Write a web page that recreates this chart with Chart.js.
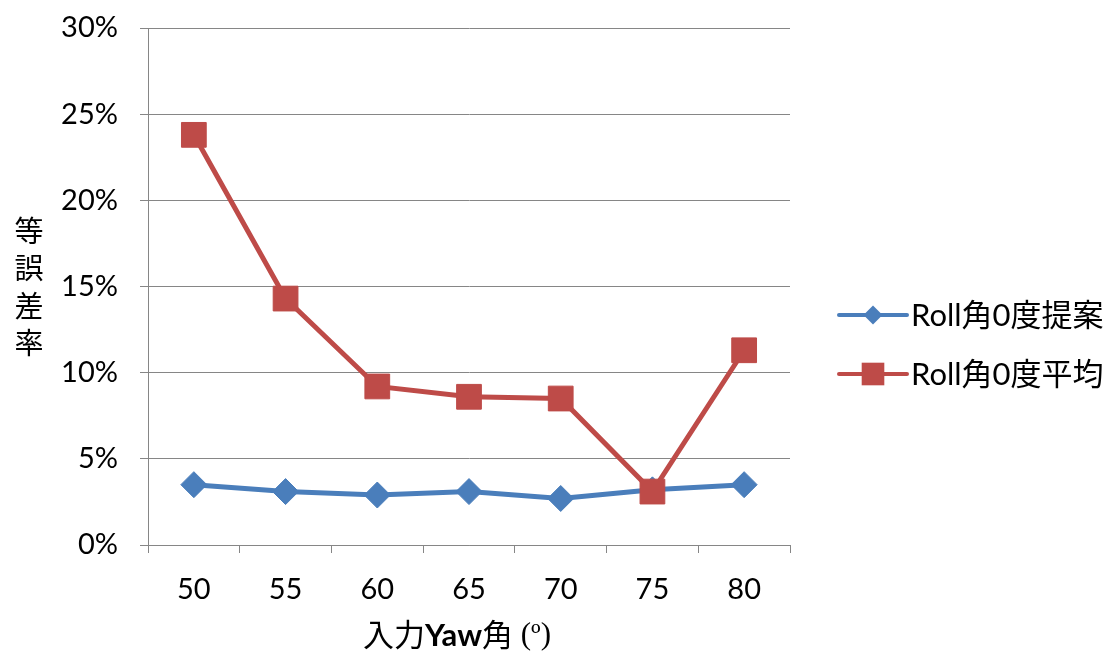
<!DOCTYPE html>
<html>
<head>
<meta charset="utf-8">
<script src="https://cdn.jsdelivr.net/npm/chart.js@4/dist/chart.umd.min.js"></script>
<style>
  html, body { margin: 0; padding: 0; background: #ffffff; }
  #wrap { width: 1114px; height: 655px; position: relative; }
</style>
</head>
<body>
<div id="wrap"><canvas id="c" width="1114" height="655"></canvas></div>
<script>
const categories = ['50', '55', '60', '65', '70', '75', '80'];
const proposedValues = [3.5, 3.1, 2.9, 3.1, 2.7, 3.2, 3.5];
const averageValues = [23.8, 14.3, 9.2, 8.6, 8.5, 3.1, 11.3];
const seriesNames = ['Roll角0度提案', 'Roll角0度平均'];
const yTitleChars = ['等', '誤', '差', '率'];
const xTitleParts = [
  { text: '入力', weight: 'normal', family: 'Lato, "Noto Sans CJK JP", sans-serif' },
  { text: 'Yaw', weight: 'bold', family: 'Lato, "Noto Sans CJK JP", sans-serif' },
  { text: '角', weight: 'normal', family: 'Lato, "Noto Sans CJK JP", sans-serif' },
  { text: ' (º)', weight: 'normal', family: '"Liberation Serif", serif' }
];
const yMin = 0, yMax = 30, yStep = 5;

const FONT = 'Lato, "Noto Sans CJK JP", sans-serif';
const GRID = '#868686';
const BLUE = '#4A7EBB';
const RED = '#BE4B48';

function drawMarker(ctx, style, x, y, r, color) {
  ctx.save();
  ctx.fillStyle = color;
  ctx.beginPath();
  if (style === 'rectRot') {
    ctx.moveTo(x - r, y);
    ctx.lineTo(x, y - r);
    ctx.lineTo(x + r, y);
    ctx.lineTo(x, y + r);
  } else {
    const s = r * Math.SQRT1_2;
    ctx.rect(x - s, y - s, 2 * s, 2 * s);
  }
  ctx.closePath();
  ctx.fill();
  ctx.restore();
}

const decorPlugin = {
  id: 'decor',
  afterDraw(chart) {
    const ctx = chart.ctx;
    const ca = chart.chartArea;
    ctx.save();
    // Y title (stacked vertical characters)
    ctx.fillStyle = '#000';
    ctx.font = '29px ' + FONT;
    ctx.textAlign = 'center';
    ctx.textBaseline = 'middle';
    const yMid = (ca.top + ca.bottom) / 2;
    const spacing = 37.5;
    yTitleChars.forEach((ch, i) => {
      ctx.fillText(ch, 29, yMid + 2 + (i - (yTitleChars.length - 1) / 2) * spacing);
    });
    // X title (mixed fonts)
    ctx.textAlign = 'left';
    let total = 0;
    const widths = xTitleParts.map(p => {
      ctx.font = p.weight + ' 31px ' + p.family;
      const w = ctx.measureText(p.text).width;
      total += w;
      return w;
    });
    let x = (ca.left + ca.right) / 2 - 12 - total / 2;
    xTitleParts.forEach((p, i) => {
      ctx.font = p.weight + ' 31px ' + p.family;
      ctx.fillText(p.text, x, 636);
      x += widths[i];
    });
    // Legend
    const lx0 = ca.right + 49, lx1 = ca.right + 117;
    const ly = [315, 374];
    chart.data.datasets.forEach((ds, i) => {
      ctx.strokeStyle = ds.borderColor;
      ctx.lineWidth = 4;
      ctx.lineCap = 'round';
      ctx.beginPath();
      ctx.moveTo(lx0, ly[i]);
      ctx.lineTo(lx1, ly[i]);
      ctx.stroke();
      drawMarker(ctx, ds.pointStyle, (lx0 + lx1) / 2, ly[i], ds.pointStyle === 'rectRot' ? 9.5 : 16, ds.borderColor);
      ctx.fillStyle = '#000';
      ctx.font = '31px ' + FONT;
      ctx.textBaseline = 'middle';
      ctx.fillText(ds.label, lx1 + 4, ly[i] + 1);
    });
    ctx.restore();
  }
};

new Chart(document.getElementById('c'), {
  type: 'line',
  data: {
    labels: categories,
    datasets: [
      {
        label: seriesNames[0],
        data: proposedValues,
        borderColor: BLUE,
        backgroundColor: BLUE,
        borderWidth: 5,
        pointStyle: 'rectRot',
        pointRadius: 13,
        pointHoverRadius: 13,
        pointBorderWidth: 1,
        tension: 0,
        order: 1
      },
      {
        label: seriesNames[1],
        data: averageValues,
        borderColor: RED,
        backgroundColor: RED,
        borderWidth: 5,
        pointStyle: 'rect',
        pointRadius: 17.5,
        pointHoverRadius: 17.5,
        pointBorderWidth: 1,
        tension: 0,
        order: 0
      }
    ]
  },
  options: {
    responsive: false,
    devicePixelRatio: 1,
    animation: false,
    layout: { padding: { left: 0, right: 324, top: 28, bottom: 0 } },
    plugins: {
      legend: { display: false },
      tooltip: { enabled: false },
      title: { display: false }
    },
    scales: {
      x: {
        type: 'category',
        offset: true,
        grid: { display: true, drawOnChartArea: false, offset: true, tickLength: 8, color: GRID, lineWidth: 1 },
        border: { display: true, color: GRID, width: 1 },
        ticks: { color: '#000', font: { family: FONT, size: 29 }, padding: 19, maxRotation: 0 },
        afterFit(scale) { scale.height = 110; scale.paddingLeft = 0; scale.paddingRight = 0; }
      },
      y: {
        min: yMin,
        max: yMax,
        grid: { color: GRID, lineWidth: 1, tickLength: 8 },
        border: { display: true, color: GRID, width: 1 },
        ticks: {
          stepSize: yStep,
          color: '#000',
          font: { family: FONT, size: 29 },
          padding: 22,
          callback: v => v + '%'
        },
        afterFit(scale) { scale.width = 148; scale.paddingTop = 0; scale.paddingBottom = 0; }
      }
    }
  },
  plugins: [decorPlugin]
});
</script>
</body>
</html>
